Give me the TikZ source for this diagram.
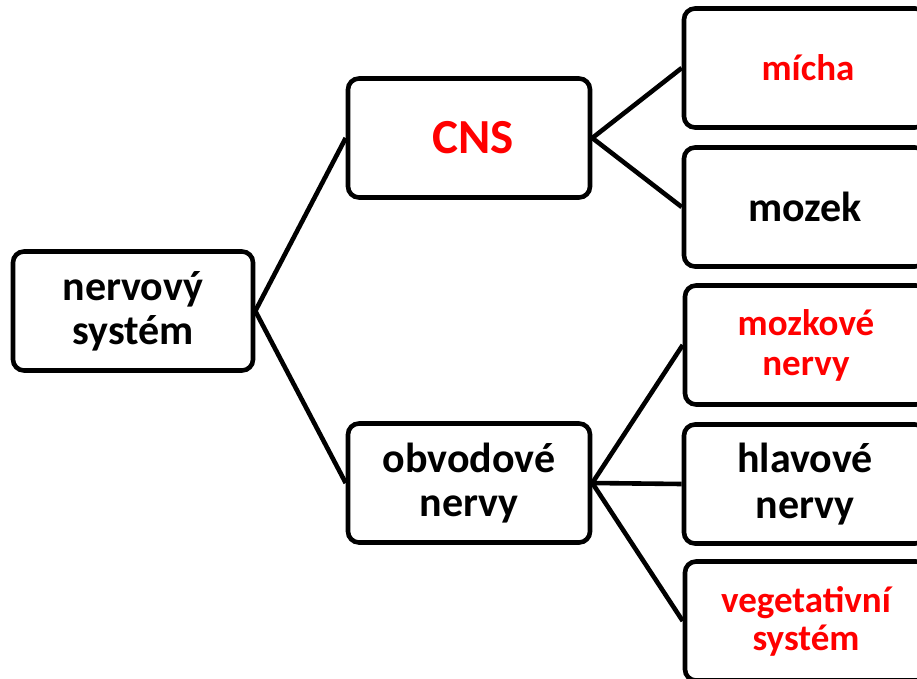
\documentclass[tikz,border=0pt]{standalone}
\usepackage{fontspec}
\setmainfont{Carlito}
\definecolor{myred}{RGB}{255,0,0}
\tikzset{
  box/.style={draw=black, line width=4.6bp, rounded corners=11bp, fill=white,
    minimum width=242bp, minimum height=119bp, inner sep=0pt, align=center,
    font=\bfseries\fontsize{42bp}{44bp}\selectfont},
  redsmall/.style={text=myred, font=\bfseries\fontsize{37bp}{40bp}\selectfont},
  link/.style={draw=black, line width=4.6bp},
}
\begin{document}
\begin{tikzpicture}[x=1bp,y=-1bp]
\useasboundingbox (0,0) rectangle (917,679);
\clip (0,0) rectangle (917,679);
\node[box, minimum width=240bp] (ns) at (133,311) {nervový\\systém};
\node[box] (cns) at (469,138) {\hspace*{8bp}\textcolor{myred}{\fontsize{49bp}{50bp}\selectfont CNS}};
\node[box] (ob) at (469,483) {obvodové\\nervy};
\node[box, redsmall] (mi) at (805,68) {\hspace*{6bp}mícha};
\node[box] (mo) at (805,207) {mozek};
\node[box, redsmall] (mn) at (806,345) {mozkové\\nervy};
\node[box, font=\bfseries\fontsize{42bp}{46bp}\selectfont] (hn) at (805,484) {hlavové\\nervy};
\node[box, redsmall, font=\bfseries\fontsize{37bp}{38bp}\selectfont] (vs) at (806,621) {vegetativní\\systém};
\draw[link] (ns.east) -- (cns.west);
\draw[link] (ns.east) -- (ob.west);
\draw[link] (cns.east) -- (mi.west);
\draw[link] (cns.east) -- (mo.west);
\draw[link] (ob.east) -- (mn.west);
\draw[link] (ob.east) -- (hn.west);
\draw[link] (ob.east) -- (vs.west);
\end{tikzpicture}
\end{document}
